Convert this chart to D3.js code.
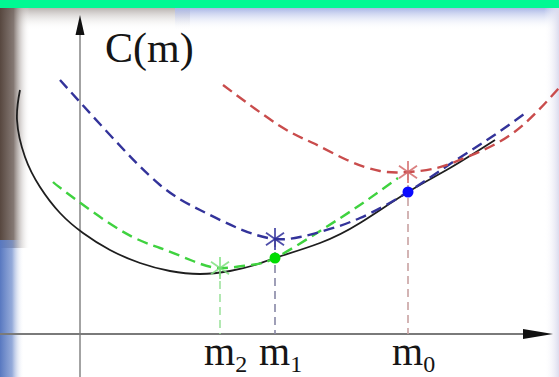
<!DOCTYPE html>
<html lang="en">
<head>
    <meta charset="UTF-8">
    <script src="https://d3js.org/d3.v7.min.js"></script>
    <title>C(m)</title>
    <style>
        html, body { margin: 0; padding: 0; background: #fff; }
        svg { display: block; }
    </style>
</head>
<body>
    <div id="chart"></div>
    <script>
        const width = 559;
        const height = 377;

        // curve points (m, C)
        const costCurve = [
            [-6.0, 24.4], [-6.3, 21.4], [-5.5, 17.7], [-4.0, 14.7], [-2.0, 12.1],
            [0.3, 10.1], [3.0, 8.4], [6.0, 7.1], [9.0, 6.3], [12.0, 6.0],
            [15.0, 6.3], [17.5, 6.9], [19.5, 7.6], [24.0, 9.1], [28.0, 11.1],
            [32.8, 14.2], [37.0, 16.6], [41.5, 19.4]
        ];
        const redParabola = [
            [14.3, 24.9], [20.0, 20.8], [23.3, 19.1], [26.7, 17.4], [30.0, 16.3],
            [32.8, 16.2], [35.7, 16.6], [38.7, 17.7], [43.3, 20.1], [47.9, 24.6]
        ];
        const blueParabola = [
            [-2.0, 25.4], [3.0, 19.9], [8.0, 14.9], [12.0, 12.4], [16.0, 10.5],
            [19.5, 9.5], [22.0, 9.7], [24.0, 10.2], [28.0, 11.6], [32.8, 14.2],
            [37.0, 17.0], [41.0, 19.6], [44.7, 22.2]
        ];
        const greenParabola = [
            [-2.7, 15.2], [-1.3, 14.1], [4.0, 10.4], [8.0, 8.6], [11.3, 7.3],
            [14.0, 6.6], [17.0, 6.9], [19.5, 7.6], [24.0, 10.3], [28.0, 12.9],
            [31.8, 15.6]
        ];

        // m0, m1, m2 and where each one is marked
        const mLabels = ["0", "1", "2"];
        const mValues = [32.8, 19.5, 14.0];
        const minima = [16.2, 9.5, 6.6];      // star on the parabola
        const touch = [14.2, 7.6, null];      // dot on the curve

        const colors = {
            curve: "#1e1e1e",
            red: "#c94c4c",
            blue: "#33339a",
            green: "#3fd23f"
        };
        const starColors = ["#d36a6a", "#2f2f9a", "#7fe07f"];
        const dropColors = ["#c9a2a2", "#8787a6", "#9fe39f"];
        const dotColors = ["#0a0aff", "#00dc00", null];

        const x = d3.scaleLinear().domain([-8, 47.9]).range([0, width]);
        const y = d3.scaleLinear().domain([0, 33.4]).range([334, 0]);

        const svg = d3.select("#chart")
            .append("svg")
            .attr("width", width)
            .attr("height", height);

        const defs = svg.append("defs");

        function gradient(id, x2, y2, stops) {
            const gr = defs.append("linearGradient")
                .attr("id", id)
                .attr("x1", 0).attr("y1", 0)
                .attr("x2", x2).attr("y2", y2);
            stops.forEach(s => {
                gr.append("stop")
                    .attr("offset", s[0])
                    .attr("stop-color", s[1])
                    .attr("stop-opacity", s[2]);
            });
        }

        gradient("leftBrown", 1, 0, [[0, "#57473f", 1], [0.45, "#6e605a", 0.85], [1, "#ffffff", 0]]);
        gradient("leftBlue", 1, 0, [[0, "#5878c0", 1], [0.5, "#7a95d0", 0.8], [1, "#ffffff", 0]]);
        gradient("topGray", 0, 1, [[0, "#b9b3b0", 1], [1, "#ffffff", 0]]);
        gradient("topBlue", 0, 1, [[0, "#a9b6e6", 1], [1, "#ffffff", 0]]);
        gradient("rightEdge", 1, 0, [[0, "#ffffff", 0], [1, "#dcdcee", 1]]);

        // photo edges
        svg.append("rect").attr("x", 0).attr("y", 8).attr("width", 190).attr("height", 22).attr("fill", "url(#topGray)");
        svg.append("rect").attr("x", 175).attr("y", 8).attr("width", 384).attr("height", 22).attr("fill", "url(#topBlue)");
        svg.append("rect").attr("x", 0).attr("y", 8).attr("width", 30).attr("height", 240).attr("fill", "url(#leftBrown)");
        svg.append("rect").attr("x", 0).attr("y", 240).attr("width", 24).attr("height", 137).attr("fill", "url(#leftBlue)");
        svg.append("rect").attr("x", 544).attr("y", 8).attr("width", 15).attr("height", 369).attr("fill", "url(#rightEdge)");
        svg.append("rect").attr("x", 0).attr("y", 0).attr("width", width).attr("height", 8).attr("fill", "#00f993");

        // axes
        svg.append("line")
            .attr("x1", x(0)).attr("x2", x(0))
            .attr("y1", 32).attr("y2", height)
            .attr("stroke", "#8c8c8c").attr("stroke-width", 1.6);
        svg.append("path")
            .attr("d", `M${x(0)},15 L${x(0) - 4.5},35 L${x(0) + 4.5},35 Z`)
            .attr("fill", "#111");

        svg.append("line")
            .attr("x1", 0).attr("x2", 527)
            .attr("y1", y(0)).attr("y2", y(0))
            .attr("stroke", "#7a7a7a").attr("stroke-width", 2);
        svg.append("path")
            .attr("d", `M553,${y(0)} L523,${y(0) - 5} L523,${y(0) + 5} Z`)
            .attr("fill", "#111");

        svg.append("text")
            .attr("x", 105).attr("y", 62)
            .attr("font-family", "Liberation Serif, Times New Roman, serif")
            .attr("font-size", 42)
            .attr("fill", "#151515")
            .text("C(m)");

        // drop lines from the stars down to the axis
        mValues.forEach((m, i) => {
            svg.append("line")
                .attr("x1", x(m)).attr("x2", x(m))
                .attr("y1", y(minima[i])).attr("y2", y(0))
                .attr("stroke", dropColors[i])
                .attr("stroke-width", 1.6)
                .attr("stroke-dasharray", "8,5");
        });

        const line = d3.line()
            .x(d => x(d[0]))
            .y(d => y(d[1]))
            .curve(d3.curveNatural);

        svg.append("path")
            .datum(costCurve)
            .attr("d", line)
            .attr("fill", "none")
            .attr("stroke", colors.curve)
            .attr("stroke-width", 1.8);

        [[greenParabola, colors.green], [blueParabola, colors.blue], [redParabola, colors.red]].forEach(p => {
            svg.append("path")
                .datum(p[0])
                .attr("d", line)
                .attr("fill", "none")
                .attr("stroke", p[1])
                .attr("stroke-width", 2.4)
                .attr("stroke-dasharray", "11,6");
        });

        // asterisk marks at each parabola's minimum
        function asterisk(r) {
            let d = "";
            [90, 35, 145].forEach(a => {
                const rad = a * Math.PI / 180;
                const dx = r * Math.cos(rad), dy = r * Math.sin(rad);
                d += `M${-dx},${-dy}L${dx},${dy}`;
            });
            return d;
        }

        mValues.forEach((m, i) => {
            svg.append("path")
                .attr("d", asterisk(11))
                .attr("transform", `translate(${x(m)},${y(minima[i])})`)
                .attr("stroke", starColors[i])
                .attr("stroke-width", 1.8)
                .attr("fill", "none")
                .attr("opacity", 0.85);
            if (touch[i] !== null) {
                svg.append("circle")
                    .attr("cx", x(m))
                    .attr("cy", y(touch[i]))
                    .attr("r", 5.5)
                    .attr("fill", dotColors[i]);
            }
        });

        // m labels with subscripts
        mValues.forEach((m, i) => {
            const t = svg.append("text")
                .attr("x", x(m) - 16)
                .attr("y", 365)
                .attr("font-family", "Liberation Serif, Times New Roman, serif")
                .attr("font-size", 40)
                .attr("fill", "#151515");
            t.append("tspan").text("m");
            t.append("tspan")
                .attr("font-size", 24)
                .attr("dy", 7)
                .text(mLabels[i]);
        });
    </script>
</body>
</html>
